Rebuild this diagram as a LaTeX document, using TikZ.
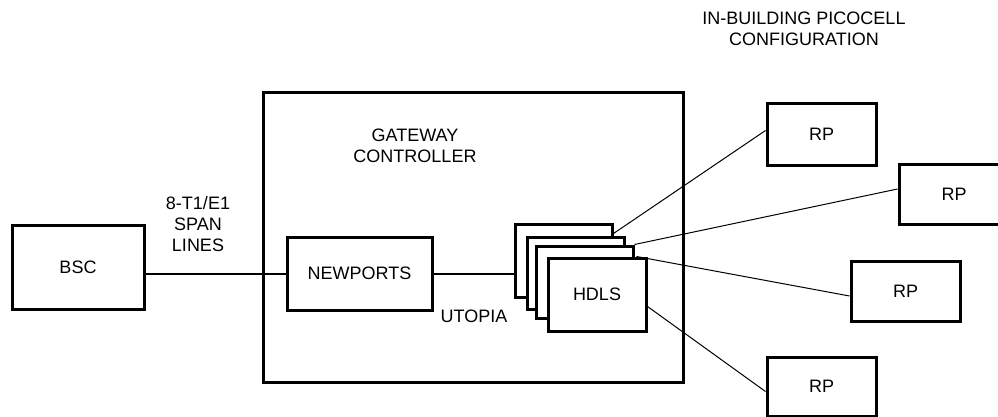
\documentclass[tikz,border=0pt]{standalone}
\usepackage{fontspec}
\setmainfont{Liberation Sans}
\usetikzlibrary{calc}
\begin{document}
\begin{tikzpicture}[x=1pt,y=-1pt,
  every node/.style={font=\fontsize{18}{21}\selectfont, inner sep=0pt, align=center},
  box/.style={draw, line width=3pt, fill=white, minimum width=#1},
  box/.default=132pt,
  link/.style={line width=1pt},
  trunk/.style={line width=2pt}]
\path[use as bounding box, clip] (0,0) rectangle (998,417);
% gateway controller frame
\node[draw, line width=3pt, minimum width=420pt, minimum height=289pt] (gw) at (473,237.5) {};
\node (gwlabel) at (415,145.5) {GATEWAY\\CONTROLLER};
% BSC
\node[box=132pt, minimum height=84pt] (bsc) at (78,267) {BSC};
% NEWPORTS
\node[box=145pt, minimum height=73pt] (np) at (359.5,273.5) {NEWPORTS};
% HDLS stack
\node[box=97pt, minimum height=73pt] (h1) at (563.5,260.5) {};
\node[box=97pt, minimum height=72pt] (h2) at (575.5,273) {};
\node[box=97pt, minimum height=72pt] (h3) at (584.5,282) {};
\node[box=98pt, minimum height=73pt] (h4) at (597,294.5) {HDLS};
% RP boxes
\node[box=109pt, minimum height=61pt] (rp1) at (821.5,134.5) {RP};
\node[box=110pt, minimum height=60pt] (rp2) at (954,194) {RP};
\node[box=109pt, minimum height=60pt] (rp3) at (905.5,291) {RP};
\node[box=109pt, minimum height=59pt] (rp4) at (821.5,386.5) {RP};
% labels
\node (title) at (804,29) {IN-BUILDING PICOCELL\\CONFIGURATION};
\node (span) at (198,224) {8-T1/E1\\SPAN\\LINES};
\node (utopia) at (474,316.5) {UTOPIA};
% connectors
\draw[trunk] (np.west -| bsc.east) -- (np.west);
\draw[trunk] (np.east) -- (np.east -| h1.west);
\draw[link] ([yshift=4pt]rp1.west) -- ([yshift=-11pt]h1.north east);
\draw[link] ([yshift=5pt]rp2.west) -- (h3.north east);
\draw[link] ([yshift=-5pt]rp3.west) -- ([xshift=-11pt]h4.north east);
\draw[link] ([yshift=-5pt]rp4.west) -- ([yshift=-50pt]h4.north east);
\end{tikzpicture}
\end{document}
